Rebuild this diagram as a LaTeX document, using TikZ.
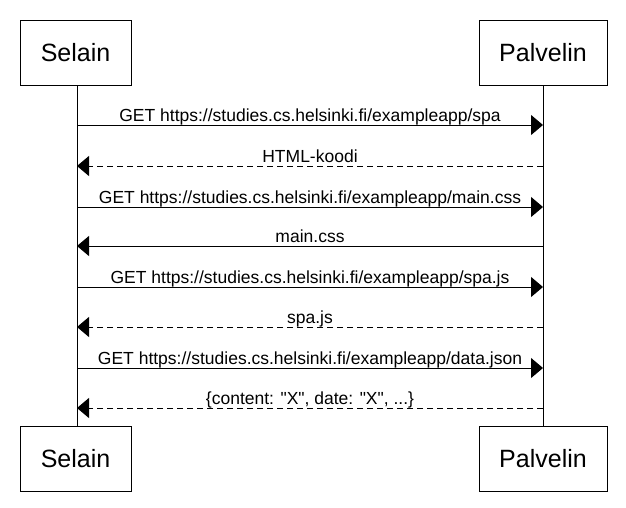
\documentclass[tikz,border=0pt]{standalone}
\usepackage{fontspec}
\setmainfont{Liberation Sans}
\newfontfamily\qfont{Liberation Sans}
\usetikzlibrary{arrows.meta}
\newcommand{\qd}{{\qfont"}}
\tikzset{
  actor/.style={draw, line width=1pt, minimum width=111pt, minimum height=65pt, inner sep=0pt, font=\fontsize{25}{29}\selectfont},
  actorP/.style={actor, minimum width=128pt},
  life/.style={line width=1pt},
  msg/.style={line width=1pt, -{Triangle[length=12pt, width=20pt]}},
  reply/.style={msg, dash pattern=on 6pt off 4pt},
  lbl/.style={anchor=base, yshift=4pt, inner sep=0pt, font=\fontsize{17.5}{20}\selectfont}
}
\begin{document}
\begin{tikzpicture}[x=1pt,y=-1pt]
\useasboundingbox (0,0) rectangle (626,507);
\node[actor]  (selT) at (75.5,52.5) {Selain};
\node[actorP] (palT) at (543,52.5) {Palvelin};
\node[actor]  (selB) at (75.5,459) {Selain};
\node[actorP] (palB) at (543,459) {Palvelin};
\coordinate (sl) at (77,0);
\coordinate (pl) at (543,0);
\draw[life] (selT.south -| sl) -- (selB.north -| sl);
\draw[life] (palT.south -| pl) -- (palB.north -| pl);
\foreach \i/\y in {1/125,2/166,3/207,4/246,5/287,6/327,7/368,8/408}{
  \coordinate (s\i) at (77,\y);
  \coordinate (p\i) at (543,\y);
}
\draw[msg]   (s1) -- node[lbl]{GET https://studies.cs.helsinki.fi/exampleapp/spa} (p1);
\draw[reply] (p2) -- node[lbl]{HTML-koodi} (s2);
\draw[msg]   (s3) -- node[lbl]{GET https://studies.cs.helsinki.fi/exampleapp/main.css} (p3);
\draw[msg]   (p4) -- node[lbl]{main.css} (s4);
\draw[msg]   (s5) -- node[lbl]{GET https://studies.cs.helsinki.fi/exampleapp/spa.js} (p5);
\draw[reply] (p6) -- node[lbl]{spa.js} (s6);
\draw[msg]   (s7) -- node[lbl]{GET https://studies.cs.helsinki.fi/exampleapp/data.json} (p7);
\draw[reply] (p8) -- node[lbl]{\{content: \qd X\qd, date: \qd X\qd, ...\}} (s8);
\end{tikzpicture}
\end{document}
